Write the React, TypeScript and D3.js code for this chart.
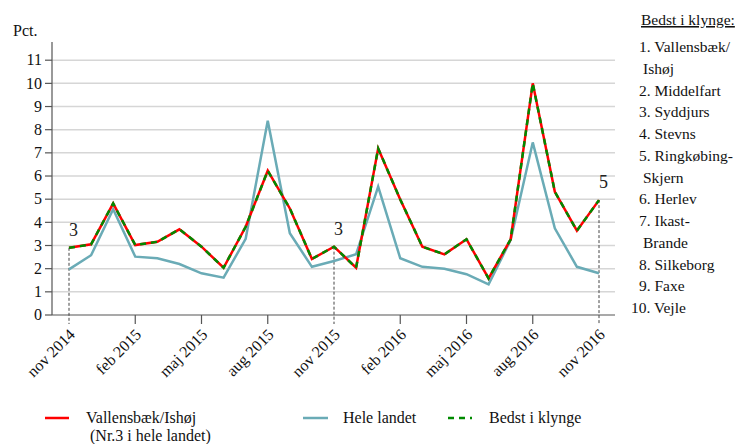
import * as d3 from "d3";
import { useEffect, useRef } from "react";

// monthly values nov 2014 - nov 2016
const months = [
  "nov 2014", "dec 2014", "jan 2015", "feb 2015", "mar 2015", "apr 2015", "maj 2015",
  "jun 2015", "jul 2015", "aug 2015", "sep 2015", "okt 2015", "nov 2015", "dec 2015",
  "jan 2016", "feb 2016", "mar 2016", "apr 2016", "maj 2016", "jun 2016", "jul 2016",
  "aug 2016", "sep 2016", "okt 2016", "nov 2016",
];
const vallensbaek = [
  2.9, 3.05, 4.82, 3.02, 3.16, 3.7, 2.95, 2.04, 3.81, 6.23, 4.6, 2.42, 2.95,
  2.04, 7.19, 4.99, 2.95, 2.62, 3.27, 1.58, 3.27, 10.0, 5.32, 3.64, 4.96,
];
const heleLandet = [
  1.97, 2.58, 4.57, 2.52, 2.45, 2.2, 1.8, 1.61, 3.29, 8.39, 3.53, 2.08, 2.33,
  2.62, 5.54, 2.45, 2.08, 2.0, 1.76, 1.32, 3.24, 7.45, 3.74, 2.08, 1.8,
];
const bedstIKlynge = [
  2.9, 3.05, 4.82, 3.02, 3.16, 3.7, 2.95, 2.04, 3.81, 6.23, 4.6, 2.42, 2.95,
  2.04, 7.19, 4.99, 2.95, 2.62, 3.27, 1.58, 3.27, 10.0, 5.32, 3.64, 4.96,
];
const tickIdx = [0, 3, 6, 9, 12, 15, 18, 21, 24];
const rankMarks = [
  { idx: 0, rank: "3" },
  { idx: 12, rank: "3" },
  { idx: 24, rank: "5" },
];
const yTicks = [0, 1, 2, 3, 4, 5, 6, 7, 8, 9, 10, 11];
const clusterList = [
  "1. Vallensbæk/", " Ishøj", "2. Middelfart", "3. Syddjurs", "4. Stevns",
  "5. Ringkøbing-", " Skjern", "6. Herlev", "7. Ikast-", " Brande",
  "8. Silkeborg", "9. Faxe", "10. Vejle",
];

const FONT = "Liberation Serif, DejaVu Serif, Times New Roman, serif";
const RED = "#ff0000";
const TEAL = "#6aabb6";
const GREEN = "#008a00";

const drawChart = (target: any) => {
  const width = 743;
  const height = 444;
  const svg = d3
    .create("svg")
    .attr("width", width)
    .attr("height", height)
    .attr("font-family", FONT)
    .style("position", "absolute")
    .style("left", 0)
    .style("top", 0)
    .style("background", "#fff");

  const x = d3.scaleLinear().domain([0, 24]).range([69, 599]);
  const y = d3.scaleLinear().domain([0, 11]).range([315, 60.2]);
  const axisLeft = 52;
  const axisRight = 615;

  // grid
  svg
    .append("g")
    .selectAll("line")
    .data(yTicks.filter((d) => d > 0))
    .join("line")
    .attr("x1", axisLeft)
    .attr("x2", axisRight)
    .attr("y1", (d) => y(d))
    .attr("y2", (d) => y(d))
    .attr("stroke", "#d6d6d6")
    .attr("stroke-width", 1.5);

  // y axis
  svg
    .append("line")
    .attr("x1", axisLeft)
    .attr("x2", axisLeft)
    .attr("y1", 42)
    .attr("y2", y(0))
    .attr("stroke", "#555")
    .attr("stroke-width", 1.2);
  svg
    .append("g")
    .selectAll("line")
    .data(yTicks)
    .join("line")
    .attr("x1", 45)
    .attr("x2", axisLeft)
    .attr("y1", (d) => y(d))
    .attr("y2", (d) => y(d))
    .attr("stroke", "#555")
    .attr("stroke-width", 1.2);
  svg
    .append("g")
    .selectAll("text")
    .data(yTicks)
    .join("text")
    .attr("font-family", FONT)
    .attr("x", 42)
    .attr("y", (d) => y(d))
    .attr("dy", "0.33em")
    .attr("text-anchor", "end")
    .attr("font-size", 16)
    .attr("fill", "#111")
    .text((d) => d);
  svg
    .append("text")
    .attr("font-family", FONT)
    .attr("x", 13)
    .attr("y", 36)
    .attr("font-size", 16)
    .attr("fill", "#111")
    .text("Pct.");

  // x axis
  svg
    .append("line")
    .attr("x1", axisLeft)
    .attr("x2", axisRight)
    .attr("y1", y(0))
    .attr("y2", y(0))
    .attr("stroke", "#555")
    .attr("stroke-width", 1.2);
  const marked = rankMarks.map((m) => m.idx);
  svg
    .append("g")
    .selectAll("line")
    .data(tickIdx.filter((i) => !marked.includes(i)))
    .join("line")
    .attr("x1", (d) => x(d))
    .attr("x2", (d) => x(d))
    .attr("y1", y(0))
    .attr("y2", y(0) + 9)
    .attr("stroke", "#555")
    .attr("stroke-width", 1.2);
  svg
    .append("g")
    .selectAll("text")
    .data(tickIdx)
    .join("text")
    .attr("font-family", FONT)
    .attr("transform", (d) => `translate(${x(d) + 7},${y(0) + 20.5}) rotate(-45)`)
    .attr("text-anchor", "end")
    .attr("font-size", 16)
    .attr("fill", "#111")
    .text((d) => months[d]);

  // rank dashed lines
  svg
    .append("g")
    .selectAll("line")
    .data(rankMarks)
    .join("line")
    .attr("x1", (d) => x(d.idx))
    .attr("x2", (d) => x(d.idx))
    .attr("y1", (d) => y(vallensbaek[d.idx]))
    .attr("y2", y(0) + 9)
    .attr("stroke", "#444")
    .attr("stroke-width", 1)
    .attr("stroke-dasharray", "3,2");

  const line = d3
    .line<number>()
    .x((_, i) => x(i))
    .y((d) => y(d));

  svg
    .append("path")
    .attr("d", line(heleLandet))
    .attr("fill", "none")
    .attr("stroke", TEAL)
    .attr("stroke-width", 2.5);
  svg
    .append("path")
    .attr("d", line(vallensbaek))
    .attr("fill", "none")
    .attr("stroke", RED)
    .attr("stroke-width", 2.5);
  svg
    .append("path")
    .attr("d", line(bedstIKlynge))
    .attr("fill", "none")
    .attr("stroke", GREEN)
    .attr("stroke-width", 2.5)
    .attr("stroke-dasharray", "6,5");

  svg
    .append("g")
    .selectAll("text")
    .data(rankMarks)
    .join("text")
    .attr("font-family", FONT)
    .attr("x", (d) => x(d.idx))
    .attr("y", (d) => y(vallensbaek[d.idx]) - 12)
    .attr("font-size", 18)
    .attr("fill", "#222")
    .text((d) => d.rank);

  // right hand list
  svg
    .append("text")
    .attr("font-family", FONT)
    .attr("x", 641)
    .attr("y", 25)
    .attr("font-size", 15.5)
    .attr("fill", "#111")
    .attr("text-decoration", "underline")
    .text("Bedst i klynge:");
  svg
    .append("g")
    .selectAll("text")
    .data(clusterList)
    .join("text")
    .attr("font-family", FONT)
    .attr("x", (d) => (d.startsWith("10") ? 631 : d.startsWith(" ") ? 643 : 639))
    .attr("y", (_, i) => 52 + i * 21.75)
    .attr("font-size", 15.5)
    .attr("fill", "#111")
    .text((d) => d.trim());

  // legend
  const legend = svg.append("g").attr("font-size", 16).attr("fill", "#111")
    .attr("font-family", FONT);
  legend.append("line").attr("x1", 45).attr("x2", 69).attr("y1", 418).attr("y2", 418)
    .attr("stroke", RED).attr("stroke-width", 2.5);
  legend.append("text").attr("x", 86).attr("y", 423).text("Vallensbæk/Ishøj");
  legend.append("text").attr("x", 90).attr("y", 441).text("(Nr.3 i hele landet)");
  legend.append("line").attr("x1", 303).attr("x2", 328).attr("y1", 418).attr("y2", 418)
    .attr("stroke", TEAL).attr("stroke-width", 2.5);
  legend.append("text").attr("x", 343).attr("y", 423).text("Hele landet");
  legend.append("line").attr("x1", 448).attr("x2", 472).attr("y1", 418).attr("y2", 418)
    .attr("stroke", GREEN).attr("stroke-width", 2.5).attr("stroke-dasharray", "6,5");
  legend.append("text").attr("x", 489).attr("y", 423).text("Bedst i klynge");

  const targetAccess = d3.select(target);
  targetAccess.selectAll("svg").remove();
  targetAccess.append(() => svg.node());
};

const App = () => {
  const targetRef = useRef<HTMLDivElement>(null);
  useEffect(() => {
    if (targetRef.current) drawChart(targetRef.current);
  }, []);
  return <div style={{ width: 743, height: 444 }} ref={targetRef} />;
};

export default App;
